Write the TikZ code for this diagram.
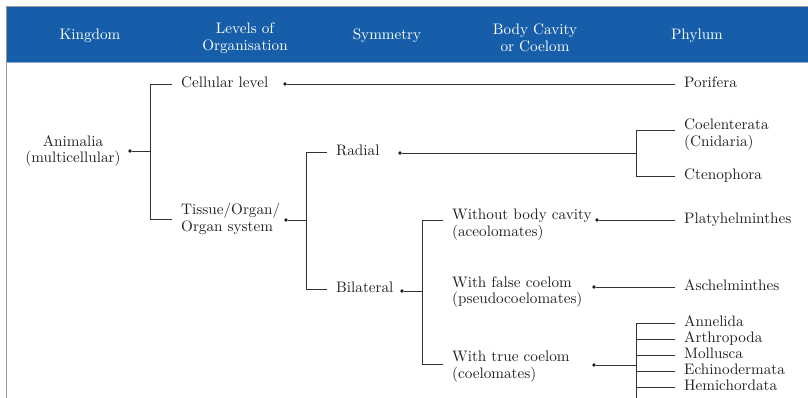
\documentclass[tikz,border=0pt]{standalone}
\usepackage{fontspec}
\setmainfont{lmroman10-regular}[Extension=.otf]
\definecolor{hdrblue}{RGB}{22,94,169}
\definecolor{hdrline}{RGB}{140,170,215}
\definecolor{frame}{RGB}{150,150,150}
\definecolor{txt}{RGB}{35,31,32}
\definecolor{linecol}{RGB}{50,50,50}
\tikzset{
  base/.style={font=\fontsize{15.2}{16.5}\selectfont, inner ysep=0pt},
  hdr/.style={base, text=white, align=center, inner xsep=0pt},
  one/.style={text height=10.5pt, text depth=3pt},
  lbl/.style={base, text=txt, anchor=west, inner xsep=9pt, align=left},
  mid/.style={base, text=txt, align=center, inner xsep=0pt},
  dotn/.style={circle, fill=txt, inner sep=0pt, minimum size=3.8pt},
  ln/.style={draw=linecol, line width=0.85pt},
}
\begin{document}
\begin{tikzpicture}[x=1pt,y=-1pt]
\useasboundingbox (0,0) rectangle (808,398);
% header band
\fill[hdrblue] (7,7) rectangle (808,62);
\draw[hdrline, line width=1pt] (7,62.5) -- (808,62.5);
\draw[frame, line width=1.2pt] (6,6.5) -- (808,6.5);
\draw[frame, line width=1.2pt] (6.5,6) -- (6.5,398);
\node[hdr,one] (hk) at (90,36) {Kingdom};
\node[hdr] (hl) at (245,38) {Levels of\\Organisation};
\node[hdr,one] (hs) at (387,36) {Symmetry};
\node[hdr] (hb) at (535,38) {Body Cavity\\or Coelom};
\node[hdr,one] (hp) at (697,36) {Phylum};

% kingdom
\node[mid] (anim) at (73,151) {Animalia\\(multicellular)};
\node[dotn] (dAnim) at (130,151) {};
\coordinate (jA) at (150,151);

% levels
\node[lbl,one] (cell) at (172,84) {Cellular level};
\node[dotn] (dCell) at (285,84) {};
\node[lbl] (tissue) at (172,219) {Tissue/Organ/\\Organ system};
\node[dotn] (dTissue) at (286,220) {};
\coordinate (jT) at (306,220);

% symmetry
\node[lbl,one] (radial) at (327,152) {Radial};
\node[dotn] (dRadial) at (400,153) {};
\coordinate (jR) at (636,153);
\node[lbl,one] (bilat) at (327,289) {Bilateral};
\node[dotn] (dBil) at (402,291) {};
\coordinate (jB) at (422,291);

% body cavity
\node[lbl] (wbc) at (443,224.5) {Without body cavity\\(aceolomates)};
\node[dotn] (dWbc) at (597,220) {};
\node[lbl] (wfc) at (443,292) {With false coelom\\(pseudocoelomates)};
\node[dotn] (dWfc) at (594,287) {};
\node[lbl] (wtc) at (443,366.5) {With true coelom\\(coelomates)};
\node[dotn] (dWtc) at (594,365) {};
\coordinate (jC) at (636,365);
\coordinate (jCend) at (636,398);

% phyla
\node[lbl,one] (porif) at (675,84) {Porifera};
\node[lbl] (coel) at (675,134.5) {Coelenterata\\(Cnidaria)};
\node[lbl,one] (cteno) at (675,176) {Ctenophora};
\node[lbl,one] (platy) at (675,220) {Platyhelminthes};
\node[lbl,one] (asch) at (675,287) {Aschelminthes};
\node[lbl,one] (annel) at (675,323) {Annelida};
\node[lbl,one] (arth) at (675,339) {Arthropoda};
\node[lbl,one] (moll) at (675,355) {Mollusca};
\node[lbl,one] (echi) at (675,371) {Echinodermata};
\node[lbl,one] (hemi) at (675,387) {Hemichordata};

% connectors
\draw[ln] (dAnim) -- (jA);
\draw[ln] (cell.west) -| (jA);
\draw[ln] (tissue.west) -| (jA);
\draw[ln] (dCell) -- (porif.west);
\draw[ln] (dTissue) -- (jT);
\draw[ln] (radial.west) -| (jT);
\draw[ln] (bilat.west) -| (jT);
\draw[ln] (dRadial) -- (jR);
\draw[ln] ([yshift=4.5pt]coel.west) -| (jR);
\draw[ln] (cteno.west) -| (jR);
\draw[ln] (dBil) -- (jB);
\draw[ln] ([yshift=4.5pt]wbc.west) -| (jB);
\draw[ln] ([yshift=2.5pt]wtc.west) -| (jB);
\draw[ln] (dWbc) -- (platy.west);
\draw[ln] (dWfc) -- (asch.west);
\draw[ln] (dWtc) -- (jC);
\draw[ln] (annel.west) -| (jCend);
\draw[ln] (arth.west) -- (arth.west -| jC);
\draw[ln] (moll.west) -- (moll.west -| jC);
\draw[ln] (echi.west) -- (echi.west -| jC);
\draw[ln] (hemi.west) -- (hemi.west -| jC);
\end{tikzpicture}
\end{document}
